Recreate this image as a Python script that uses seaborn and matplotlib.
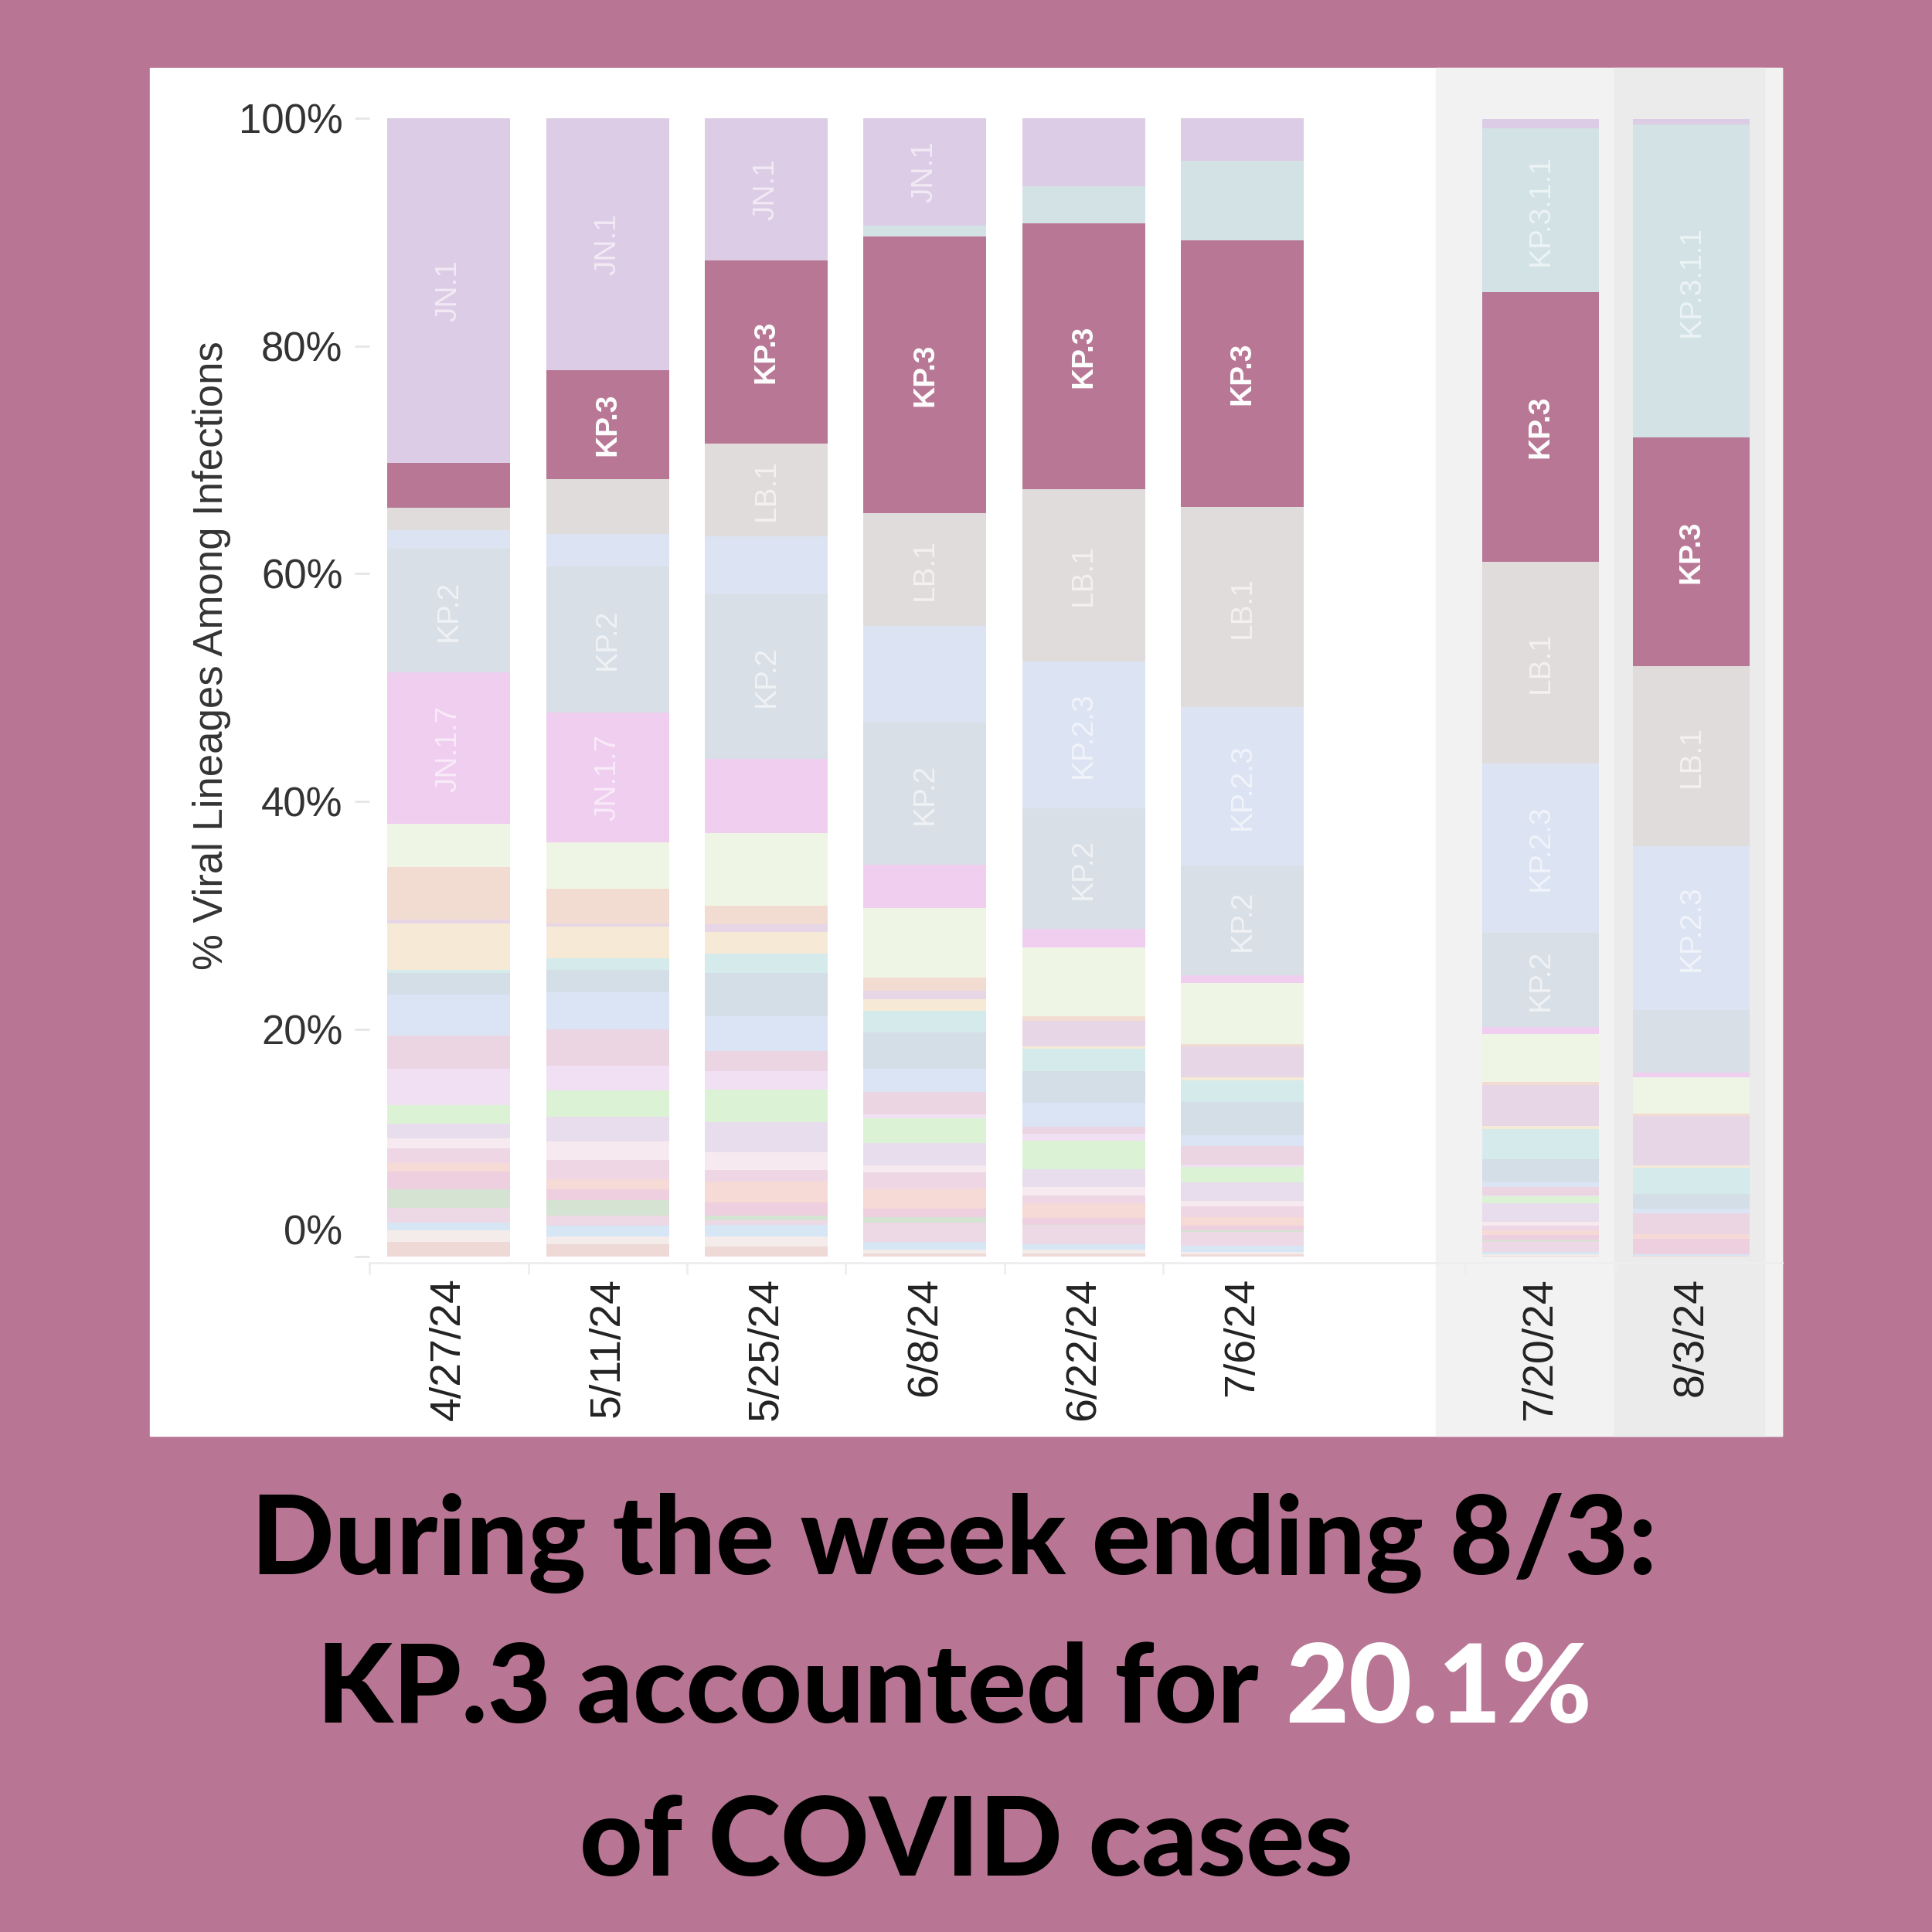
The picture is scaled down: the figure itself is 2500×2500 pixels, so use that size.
import matplotlib
matplotlib.use("Agg")
import numpy as np
import pandas as pd
import matplotlib.pyplot as plt
import matplotlib.transforms as mtransforms
from matplotlib.patches import Rectangle
import seaborn as sns

weeks = ["4/27/24", "5/11/24", "5/25/24", "6/8/24", "6/22/24", "7/6/24", "7/20/24", "8/3/24"]

# % share of each lineage per week, stacked bottom -> top
other = [1.3, 1.1, 0.9, 0.3, 0.3, 0.2, 0.1, 0.1]
ba_2_86_1 = [1.0, 0.7, 0.9, 0.3, 0.3, 0.2, 0.1, 0.0]
jn_1_4_3 = [0.7, 0.9, 1.0, 0.7, 0.5, 0.6, 0.2, 0.1]
kq_1 = [1.3, 0.9, 0.4, 1.7, 1.6, 1.2, 1.0, 0.0]
jn_1_8_1 = [1.6, 1.4, 0.4, 0.5, 0.1, 0.1, 0.1, 0.0]
jn_1_11_1 = [1.6, 0.9, 1.2, 0.7, 0.6, 0.4, 0.4, 1.4]
xdp = [0.7, 0.9, 1.8, 1.8, 1.3, 0.8, 0.4, 0.4]
jn_1_13_1 = [1.3, 1.7, 1.0, 1.4, 0.7, 0.9, 0.4, 0.0]
ks_1 = [0.9, 1.6, 1.6, 0.6, 0.7, 0.5, 0.4, 0.0]
kp_4_1 = [1.3, 2.2, 2.6, 2.0, 1.6, 1.6, 1.6, 0.0]
kp_2_15 = [1.6, 2.3, 2.9, 2.2, 2.5, 1.4, 0.6, 0.0]
jn_1_18 = [3.2, 2.2, 1.6, 0.3, 0.6, 0.2, 0.1, 0.0]
kp_1_1_3 = [2.9, 3.2, 1.8, 2.0, 0.6, 1.6, 0.7, 1.8]
jn_1_16_1 = [3.6, 3.2, 3.0, 2.0, 2.1, 1.0, 0.5, 0.4]
jn_1_16 = [1.9, 2.0, 3.8, 3.2, 2.8, 2.9, 2.0, 1.3]
kp_3_3 = [0.3, 1.0, 1.7, 1.9, 2.0, 1.9, 2.6, 2.3]
jn_1_13 = [4.1, 2.8, 1.9, 1.0, 0.2, 0.25, 0.3, 0.25]
ks_1_1 = [0.3, 0.3, 0.7, 0.8, 2.2, 2.7, 3.6, 4.3]
jn_1_32 = [4.6, 3.0, 1.6, 1.1, 0.4, 0.2, 0.25, 0.2]
kp_1_1 = [3.8, 4.1, 6.4, 6.1, 6.1, 5.4, 4.2, 3.2]
jn_1_7 = [13.3, 11.4, 6.5, 3.8, 1.6, 0.7, 0.6, 0.4]
kp_2 = [10.9, 12.8, 14.5, 12.5, 10.6, 9.6, 8.3, 5.5]
kp_2_3 = [1.6, 2.9, 5.1, 8.5, 12.9, 13.9, 14.9, 14.4]
lb_1 = [2.0, 4.8, 8.1, 9.9, 15.1, 17.6, 17.7, 15.8]
kp_3 = [3.9, 9.6, 16.1, 24.3, 23.4, 23.4, 23.7, 20.1]
kp_3_1_1 = [0.0, 0.0, 0.0, 1.0, 3.2, 7.0, 14.4, 27.5]
jn_1 = [30.3, 22.1, 12.5, 9.4, 6.1, 3.9, 0.8, 0.5]

lineage_names = ["Other", "BA.2.86.1", "JN.1.4.3", "KQ.1", "JN.1.8.1", "JN.1.11.1", "XDP",
                 "JN.1.13.1", "KS.1", "KP.4.1", "KP.2.15", "JN.1.18", "KP.1.1.3", "JN.1.16.1",
                 "JN.1.16", "KP.3.3", "JN.1.13", "KS.1.1", "JN.1.32", "KP.1.1", "JN.1.7",
                 "KP.2", "KP.2.3", "LB.1", "KP.3", "KP.3.1.1", "JN.1"]
lineage_shares = [other, ba_2_86_1, jn_1_4_3, kq_1, jn_1_8_1, jn_1_11_1, xdp,
                  jn_1_13_1, ks_1, kp_4_1, kp_2_15, jn_1_18, kp_1_1_3, jn_1_16_1,
                  jn_1_16, kp_3_3, jn_1_13, ks_1_1, jn_1_32, kp_1_1, jn_1_7,
                  kp_2, kp_2_3, lb_1, kp_3, kp_3_1_1, jn_1]
lineage_colors = ["#EFD9D6", "#F3ECEA", "#D6E6F4", "#EDD8E5", "#D4E3D2", "#EDCFDF", "#F5DAD5",
                  "#EED6E4", "#F6E9EF", "#E8DDEC", "#DCF2D5", "#F1DFF3", "#EBD5E3", "#DAE4F4",
                  "#D3DEE7", "#D5EAEA", "#F6EAD7", "#E6D6E6", "#F2DCD2", "#EEF5E4", "#EFCEEF",
                  "#D9DFE6", "#DCE3F2", "#E1DCDC", "#B87895", "#D2E2E5", "#DDCCE5"]
labelled = ["JN.1", "KP.3.1.1", "KP.3", "LB.1", "KP.2.3", "KP.2", "JN.1.7"]

# layout: bar centres and histogram bin edges (gap before the nowcast weeks)
bar_x = [0, 1, 2, 3, 4, 5, 6.88, 7.83]
bin_edges = [-0.5, 0.5, 1.5, 2.5, 3.5, 4.5, 5.5, 6.405, 7.355, 8.305]

rows = []
for name, vals in zip(lineage_names, lineage_shares):
    for x, v in zip(bar_x, vals):
        rows.append({"x": x, "share": v, "lineage": name})
df = pd.DataFrame(rows)

sns.set_theme(style="white")
plt.rcParams["font.family"] = ["Liberation Sans", "DejaVu Sans"]

bg = "#B87694"
fig = plt.figure(figsize=(25, 25), dpi=100, facecolor=bg)

# white chart card plus the shaded nowcast area
fig.add_artist(Rectangle((0.0778, 0.257), 0.8444, 0.708, color="white", zorder=-10))
fig.add_artist(Rectangle((0.743, 0.257), 0.1792, 0.708, color="#F2F2F2", zorder=-9))
fig.add_artist(Rectangle((0.8355, 0.257), 0.0778, 0.708, color="#EBEBEB", zorder=-8))

ax = fig.add_axes([0.1913, 0.34656, 0.7309, 0.59222])
ax.set_facecolor("none")

sns.histplot(data=df, x="x", weights="share", hue="lineage",
             hue_order=lineage_names[::-1],
             palette=dict(zip(lineage_names, lineage_colors)),
             multiple="stack", bins=bin_edges, shrink=0.775,
             linewidth=0, alpha=1, legend=False, ax=ax)

# lineage names inside the big segments
stack = np.array(lineage_shares)
tops = stack.cumsum(axis=0)
bottoms = tops - stack
for i, name in enumerate(lineage_names):
    if name not in labelled:
        continue
    for j, x in enumerate(bar_x):
        h = stack[i, j]
        if h < 1.4 * len(name) + 2:
            continue
        if name == "KP.3":
            ax.text(x, bottoms[i, j] + h / 2, name, rotation=90, ha="center", va="center",
                    fontsize=28, fontweight="bold", color="white")
        else:
            ax.text(x, bottoms[i, j] + h / 2, name, rotation=90, ha="center", va="center",
                    fontsize=28, color="white", alpha=0.6)

ax.set_xlim(-0.4845, 8.399)
ax.set_ylim(-0.5, 100)
ax.set_xticks(bar_x, weeks, rotation=90)
ax.set_xticks([-0.5, 0.5, 1.5, 2.5, 3.5, 4.5, 6.405, 7.355], minor=True)
ax.set_yticks([0, 20, 40, 60, 80, 100], ["0%", "20%", "40%", "60%", "80%", "100%"])
ax.set_xlabel("")
ax.set_ylabel("")
ax.tick_params(axis="y", length=14, width=2, color="#E6E6E6", pad=11,
               labelsize=38, labelcolor="#333333", left=True)
ax.tick_params(axis="x", which="major", length=0, pad=14, labelsize=40, labelcolor="#222222")
ax.tick_params(axis="x", which="minor", length=11, width=2, color="#EEEEEE", bottom=True)
for side in ["top", "right", "left"]:
    ax.spines[side].set_visible(False)
ax.spines["bottom"].set_color("#EEEEEE")
ax.spines["bottom"].set_linewidth(2)

# the 0% label sits a little high in the original
zero_lab = ax.get_yticklabels()[0]
zero_lab.set_transform(zero_lab.get_transform()
                       + mtransforms.ScaledTranslation(0, 0.35, fig.dpi_scale_trans))

fig.text(0.1097, 0.6607, "% Viral Lineages Among Infections", rotation=90,
         ha="center", va="center", fontsize=38, color="#333333")

title_font = dict(family=["Lato", "DejaVu Sans"], fontweight="black", fontsize=102)
fig.text(0.494, 0.185, "During the week ending 8/3:", ha="center", va="baseline",
         color="black", **title_font)
fig.text(0.5, 0.0293, "of COVID cases", ha="center", va="baseline",
         color="black", **title_font)

renderer = fig.canvas.get_renderer()
part1 = fig.text(0, 0.1084, "KP.3 accounted for", ha="left", va="baseline",
                 color="black", **title_font)
part2 = fig.text(0, 0.1084, "20.1%", ha="left", va="baseline", color="white", **title_font)
w1 = part1.get_window_extent(renderer).width
w2 = part2.get_window_extent(renderer).width
probe_a = fig.text(0, 0, "a a", **title_font)
probe_b = fig.text(0, 0, "aa", **title_font)
space = probe_a.get_window_extent(renderer).width - probe_b.get_window_extent(renderer).width
probe_a.remove()
probe_b.remove()
fig_w = fig.get_figwidth() * fig.dpi
x0 = 0.494 * fig_w - (w1 + space + w2) / 2
part1.set_x(x0 / fig_w)
part2.set_x((x0 + w1 + space) / fig_w)

fig.savefig("out.png", dpi=100, facecolor=bg)
